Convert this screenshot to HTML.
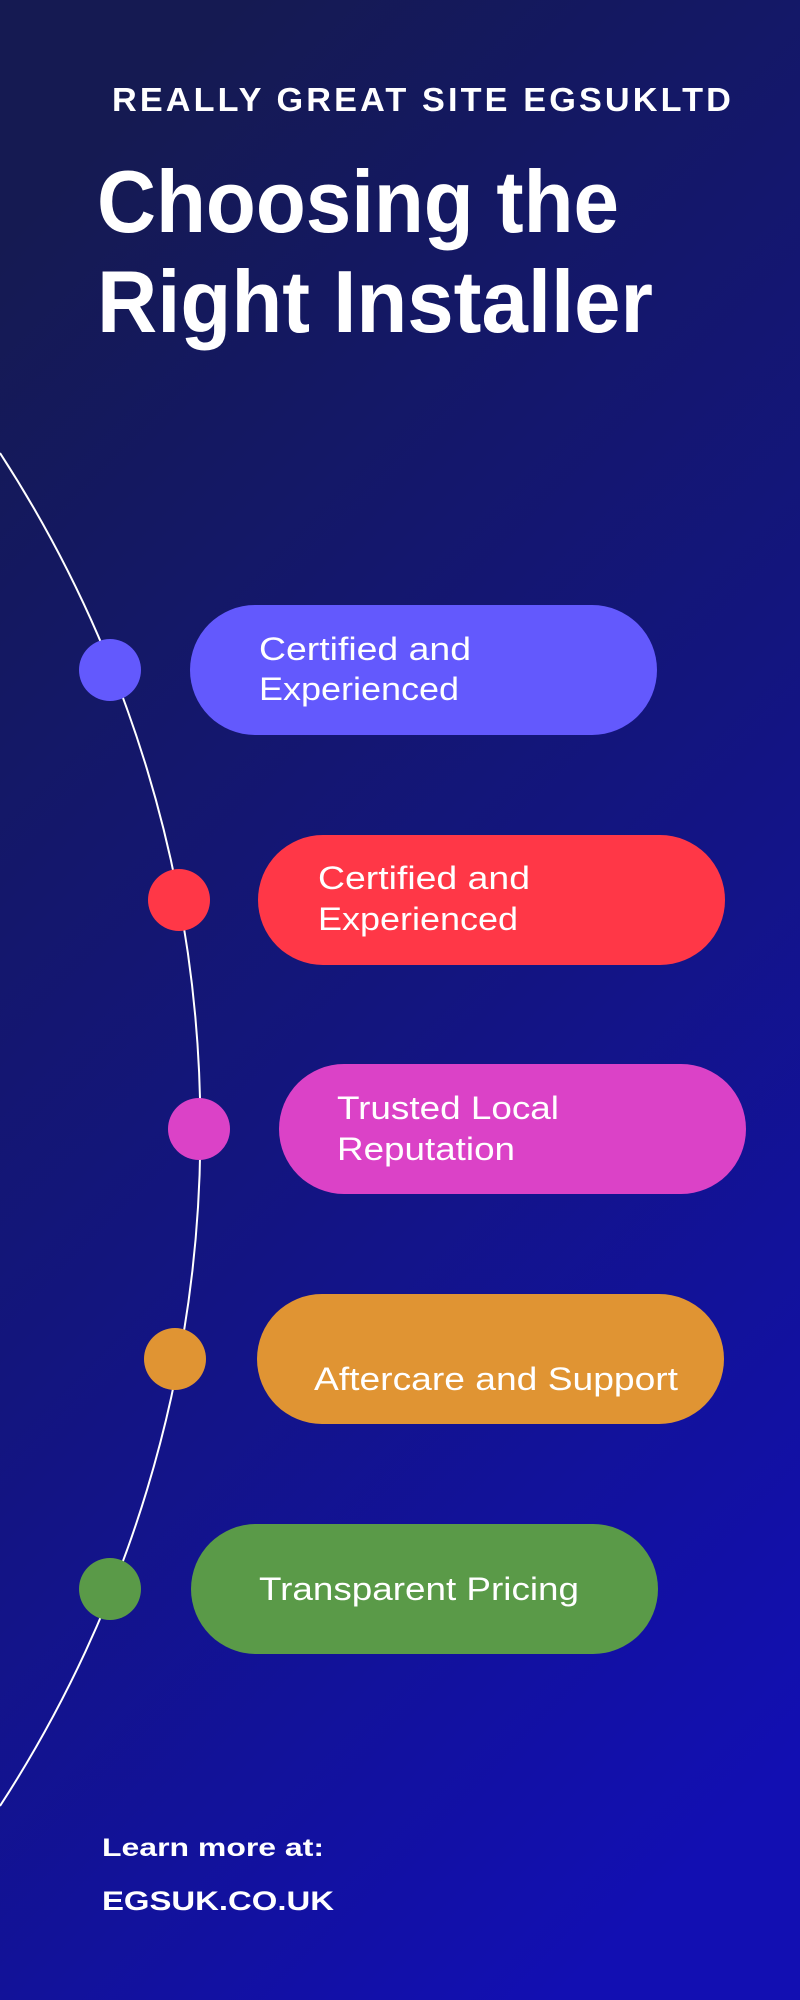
<!DOCTYPE html>
<html><head><meta charset="utf-8"><style>
html,body{margin:0;padding:0;}
body{width:800px;height:2000px;overflow:hidden;position:relative;}
svg{display:block;position:absolute;left:0;top:0;overflow:hidden;}
text{font-family:"Liberation Sans",sans-serif;fill:#fff;}
</style></head><body>
<svg width="800" height="2000" viewBox="0 0 800 2000" xmlns="http://www.w3.org/2000/svg">
<defs>
<linearGradient id="bg" x1="0.3" y1="0" x2="0.7" y2="1">
<stop offset="0" stop-color="#151a52"/>
<stop offset="0.5" stop-color="#13157e"/>
<stop offset="1" stop-color="#120fb2"/>
</linearGradient>
</defs>
<rect width="800" height="2000" fill="url(#bg)"/>
<text x="112" y="111" font-size="33" font-weight="bold" textLength="622" lengthAdjust="spacingAndGlyphs" letter-spacing="3">REALLY GREAT SITE EGSUKLTD</text>
<text x="97" y="232" font-size="88" font-weight="bold" textLength="522" lengthAdjust="spacingAndGlyphs">Choosing the</text>
<text x="97" y="332" font-size="88" font-weight="bold" textLength="556" lengthAdjust="spacingAndGlyphs">Right Installer</text>
<path d="M0,453 A1242,1242 0 0 1 0,1806" fill="none" stroke="#fff" stroke-width="2"/>
<rect x="190" y="605" width="467" height="130" rx="65" fill="#6359fd"/>
<circle cx="110" cy="670" r="31" fill="#6359fd"/>
<text x="259" y="660" font-size="32" textLength="212" lengthAdjust="spacingAndGlyphs">Certified and</text>
<text x="259" y="700" font-size="32" textLength="200" lengthAdjust="spacingAndGlyphs">Experienced</text>
<rect x="258" y="835" width="467" height="130" rx="65" fill="#ff3747"/>
<circle cx="179" cy="900" r="31" fill="#ff3747"/>
<text x="318" y="889" font-size="32" textLength="212" lengthAdjust="spacingAndGlyphs">Certified and</text>
<text x="318" y="930" font-size="32" textLength="200" lengthAdjust="spacingAndGlyphs">Experienced</text>
<rect x="279" y="1064" width="467" height="130" rx="65" fill="#db42c7"/>
<circle cx="199" cy="1129" r="31" fill="#db42c7"/>
<text x="337" y="1119" font-size="32" textLength="222" lengthAdjust="spacingAndGlyphs">Trusted Local</text>
<text x="337" y="1160" font-size="32" textLength="178" lengthAdjust="spacingAndGlyphs">Reputation</text>
<rect x="257" y="1294" width="467" height="130" rx="65" fill="#e09433"/>
<circle cx="175" cy="1359" r="31" fill="#e09433"/>
<text x="314" y="1390" font-size="32" textLength="364" lengthAdjust="spacingAndGlyphs">Aftercare and Support</text>
<rect x="191" y="1524" width="467" height="130" rx="65" fill="#5a9a48"/>
<circle cx="110" cy="1589" r="31" fill="#5a9a48"/>
<text x="259" y="1600" font-size="32" textLength="320" lengthAdjust="spacingAndGlyphs">Transparent Pricing</text>
<text x="102" y="1856" font-size="25" font-weight="bold" textLength="222" lengthAdjust="spacingAndGlyphs">Learn more at:</text>
<text x="102" y="1910" font-size="27" font-weight="bold" textLength="232" lengthAdjust="spacingAndGlyphs">EGSUK.CO.UK</text>
</svg>
</body></html>
